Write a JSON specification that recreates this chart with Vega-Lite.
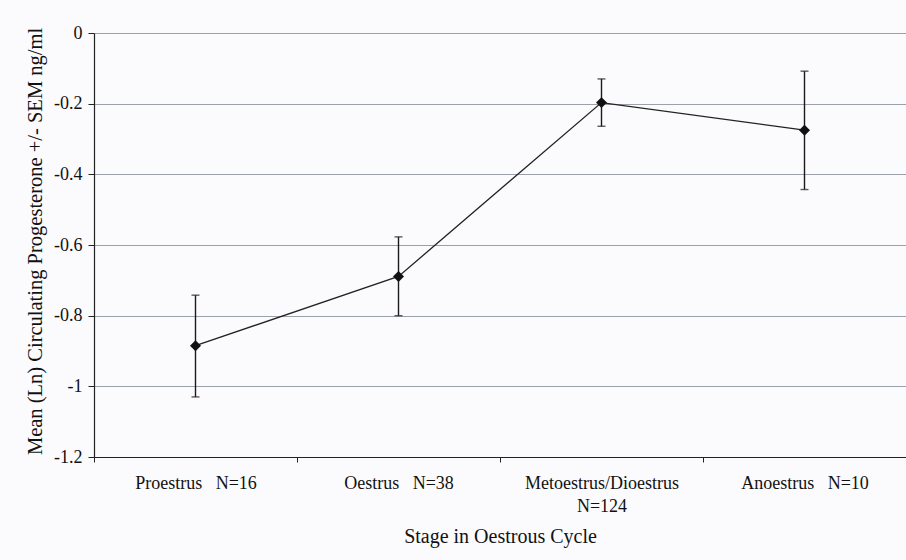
{
  "$schema": "https://vega.github.io/schema/vega-lite/v6.json",
  "width": 812,
  "height": 424,
  "autosize": {"type": "none"},
  "padding": {"left": 94, "top": 33, "right": 0, "bottom": 103},
  "background": "#fbfbfd",
  "config": {
    "view": {"stroke": null},
    "font": "Liberation Serif"
  },
  "data": {
    "values": [
      {"stage": "Proestrus N=16", "mean": -0.885, "lo": -1.03, "hi": -0.742},
      {"stage": "Oestrus N=38", "mean": -0.689, "lo": -0.8, "hi": -0.577},
      {"stage": "Metoestrus/Dioestrus N=124", "mean": -0.197, "lo": -0.264, "hi": -0.13},
      {"stage": "Anoestrus N=10", "mean": -0.275, "lo": -0.443, "hi": -0.108}
    ]
  },
  "encoding": {
    "x": {
      "field": "stage",
      "type": "nominal",
      "sort": null,
      "title": "Stage in Oestrous Cycle",
      "scale": {"type": "band", "paddingInner": 0, "paddingOuter": 0},
      "axis": {
        "orient": "bottom",
        "labelAngle": 0,
        "tickBand": "extent",
        "grid": false,
        "domainColor": "#222",
        "domainWidth": 1.2,
        "tickColor": "#222",
        "tickSize": 5,
        "tickWidth": 1,
        "labelFont": "Liberation Serif",
        "labelFontSize": 18,
        "labelColor": "#111",
        "labelPadding": 12,
        "labelLineHeight": 23,
        "labelExpr": "datum.value == null ? '' : datum.value == 'Metoestrus/Dioestrus N=124' ? ['Metoestrus/Dioestrus', 'N=124'] : replace(datum.value, ' N=', '\u00a0\u00a0\u00a0N=')",
        "titleFont": "Liberation Serif",
        "titleFontSize": 20,
        "titleFontWeight": "normal",
        "titleColor": "#111",
        "titlePadding": 11
      }
    }
  },
  "layer": [
    {
      "mark": {"type": "rule", "color": "#1a1a1a", "strokeWidth": 1.4},
      "encoding": {
        "y": {
          "field": "lo",
          "type": "quantitative",
          "title": "Mean (Ln) Circulating Progesterone +/- SEM ng/ml",
          "scale": {"domain": [-1.2, 0], "nice": false, "zero": false},
          "axis": {
            "values": [0, -0.2, -0.4, -0.6, -0.8, -1, -1.2],
            "labelExpr": "'' + datum.value",
            "grid": true,
            "gridColor": "#9ca0a8",
            "gridWidth": 1,
            "domainColor": "#222",
            "domainWidth": 1.2,
            "tickColor": "#222",
            "tickSize": 6,
            "labelFont": "Liberation Serif",
            "labelFontSize": 18,
            "labelColor": "#111",
            "labelPadding": 6,
            "titleFont": "Liberation Serif",
            "titleFontSize": 20.5,
            "titleFontWeight": "normal",
            "titleColor": "#111",
            "titlePadding": 8,
            "titleY": 208
          }
        },
        "y2": {"field": "hi"}
      }
    },
    {
      "mark": {"type": "tick", "orient": "horizontal", "size": 8, "thickness": 1.4, "color": "#1a1a1a"},
      "encoding": {
        "y": {"field": "lo", "type": "quantitative", "title": "Mean (Ln) Circulating Progesterone +/- SEM ng/ml"}
      }
    },
    {
      "mark": {"type": "tick", "orient": "horizontal", "size": 8, "thickness": 1.4, "color": "#1a1a1a"},
      "encoding": {
        "y": {"field": "hi", "type": "quantitative", "title": "Mean (Ln) Circulating Progesterone +/- SEM ng/ml"}
      }
    },
    {
      "mark": {"type": "line", "color": "#222", "strokeWidth": 1.3},
      "encoding": {
        "y": {"field": "mean", "type": "quantitative", "title": "Mean (Ln) Circulating Progesterone +/- SEM ng/ml"}
      }
    },
    {
      "mark": {"type": "point", "shape": "diamond", "filled": true, "size": 120, "color": "#111", "opacity": 1},
      "encoding": {
        "y": {"field": "mean", "type": "quantitative", "title": "Mean (Ln) Circulating Progesterone +/- SEM ng/ml"}
      }
    }
  ]
}
